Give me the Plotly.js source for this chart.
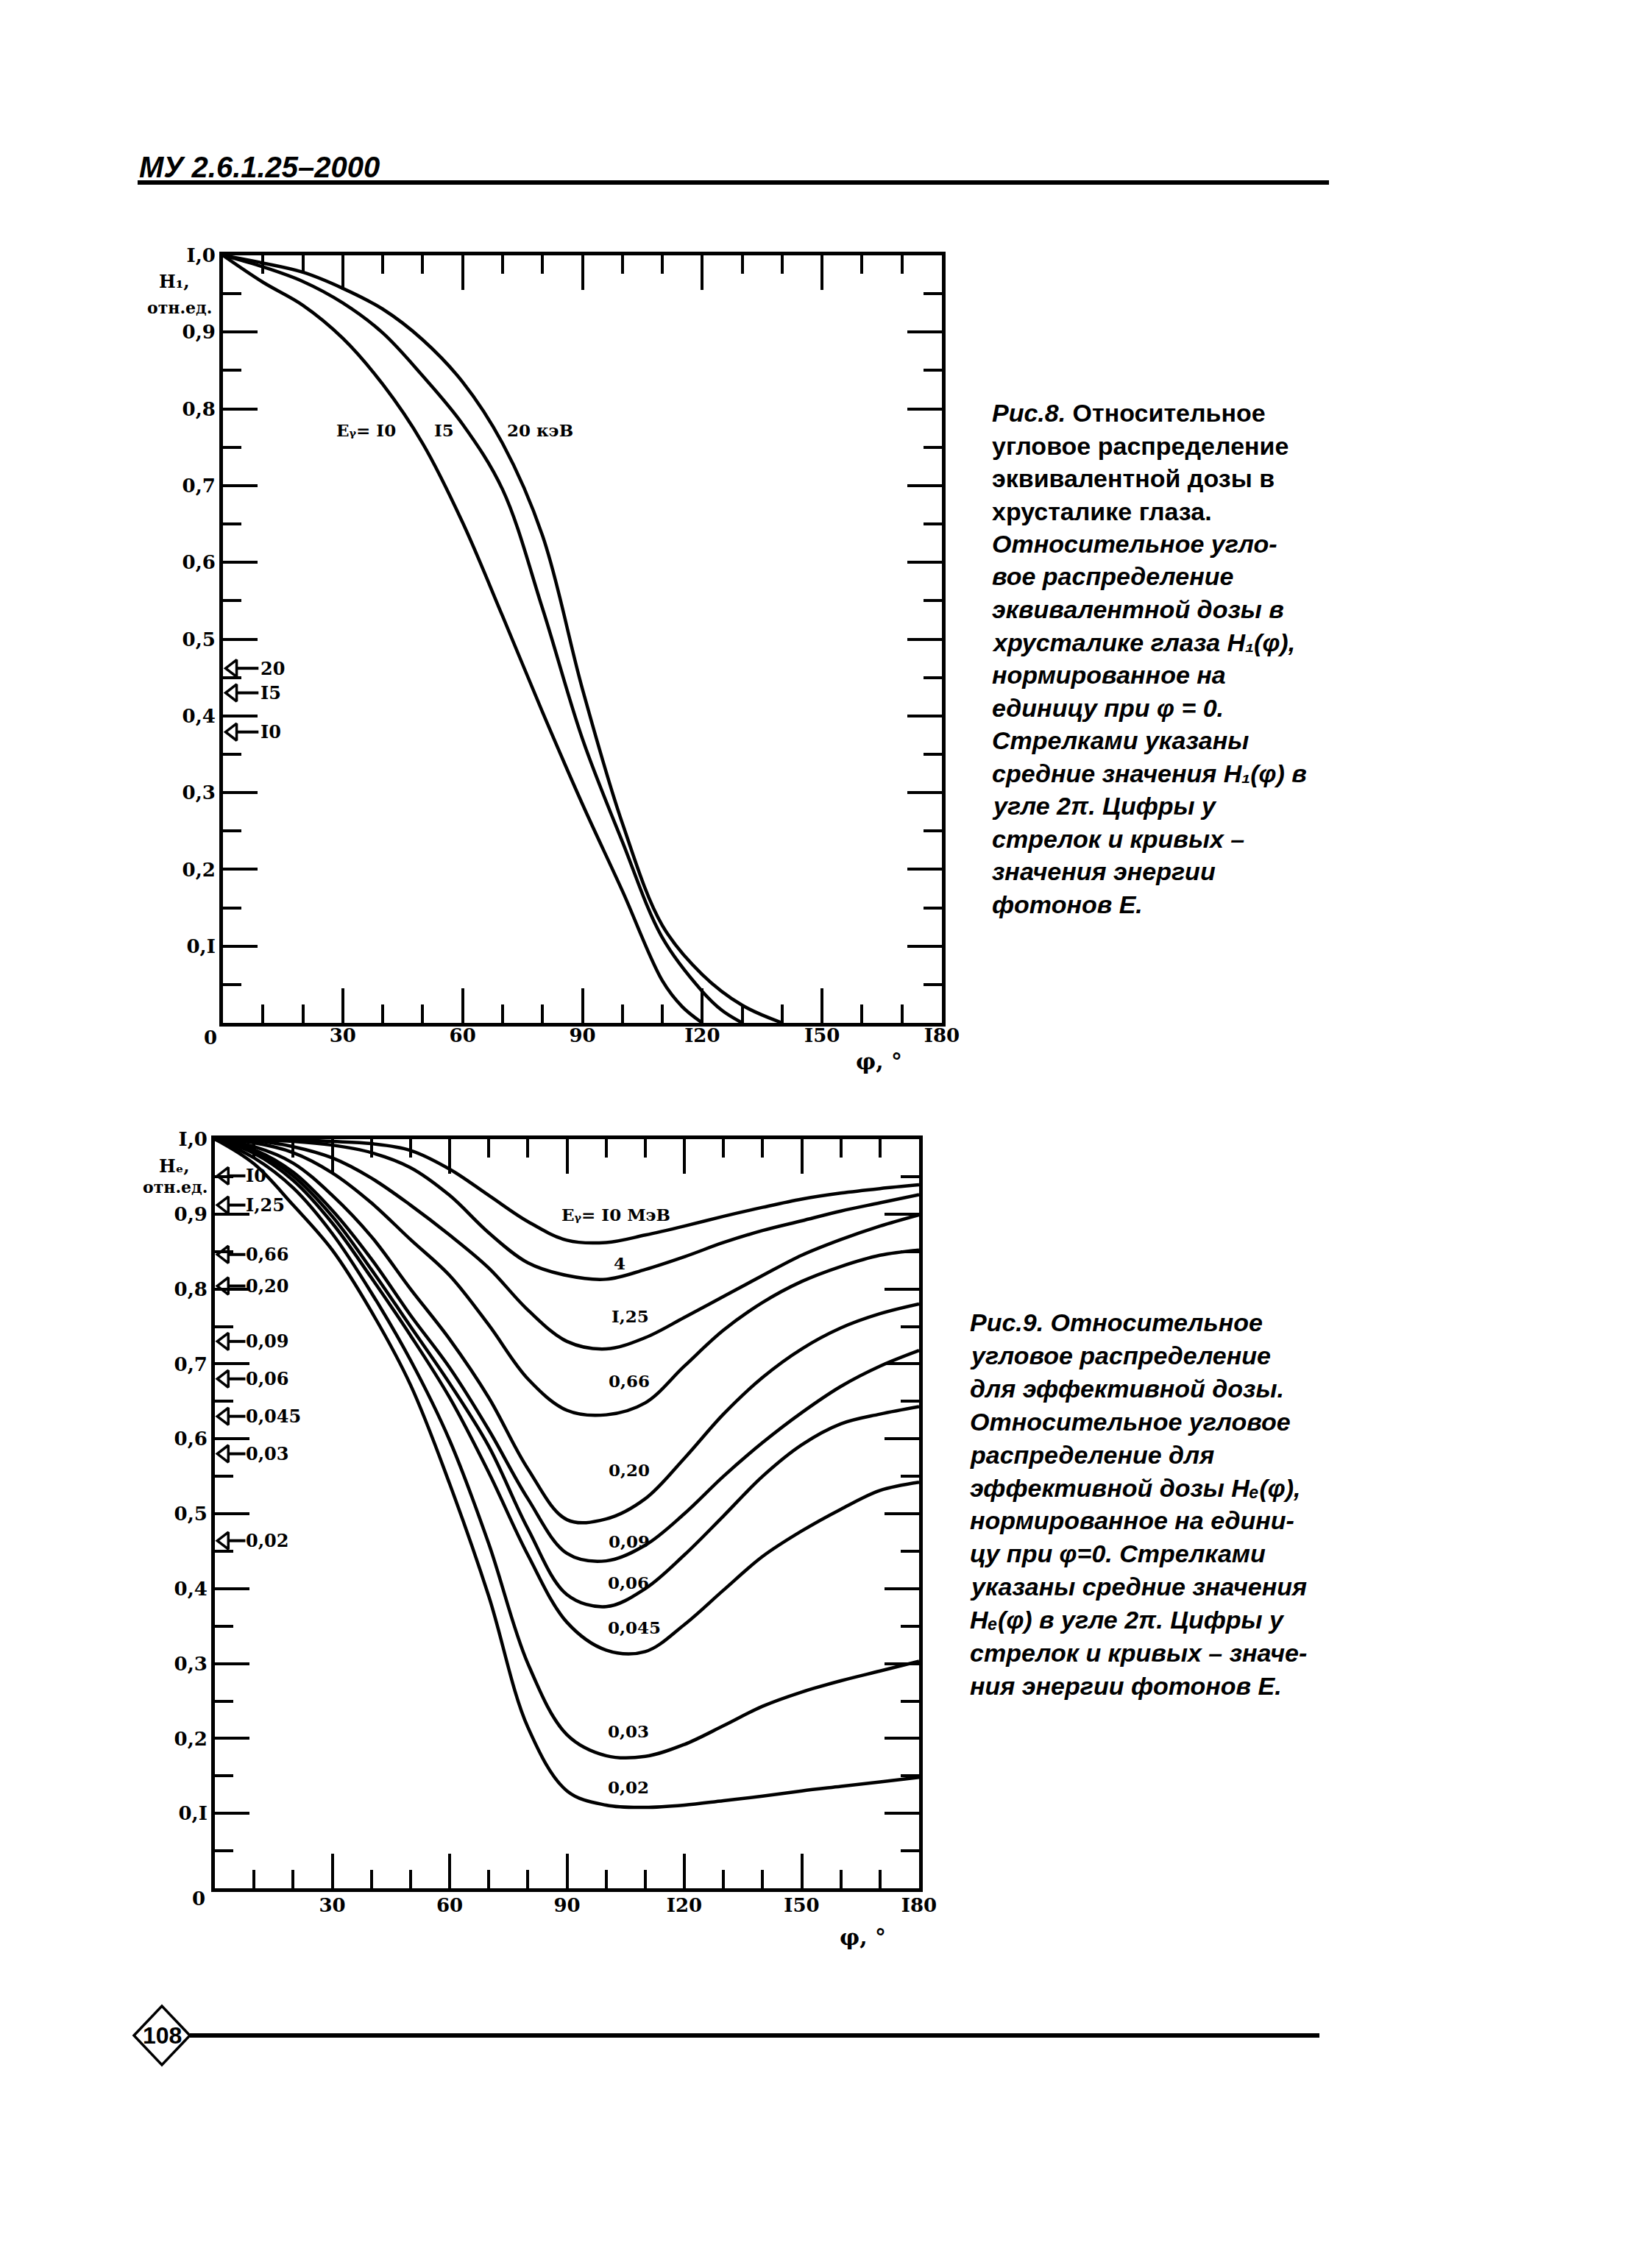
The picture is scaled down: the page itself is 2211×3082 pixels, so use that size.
<!DOCTYPE html>
<html>
<head>
<meta charset="utf-8">
<script src="https://cdn.plot.ly/plotly-3.0.1.min.js"></script>
<style>html,body{margin:0;padding:0;background:#fff;}#chart{width:2211px;height:3082px;}</style>
</head>
<body>
<div id="chart"></div>
<script>
// ---------- DATA ----------
// Fig. 8: H1(phi), lens of the eye
const phiH1_10 = [0,10,20,30,40,50,60,70,80,90,100,110,115,120];
const h1_10    = [1.0,0.965,0.935,0.892,0.832,0.755,0.652,0.53,0.405,0.285,0.172,0.055,0.021,0.0];
const phiH1_15 = [0,10,20,30,40,50,60,70,80,90,100,110,120,125,130];
const h1_15    = [1.0,0.985,0.966,0.938,0.899,0.843,0.78,0.695,0.54,0.37,0.236,0.111,0.041,0.016,0.0];
const phiH1_20 = [0,10,20,30,40,50,60,70,80,90,100,110,120,130,140];
const h1_20    = [1.0,0.99,0.978,0.957,0.93,0.89,0.835,0.755,0.635,0.435,0.26,0.127,0.063,0.023,0.0];
const h1MeanValues = [0.462,0.43,0.379];
const h1MeanLabels = ["20","I5","I0"];

// Fig. 9: He(phi), effective dose
const phiHe = [0,10,20,30,40,50,60,70,80,90,100,110,120,130,140,150,160,170,180];
const he10   = [1.0,1.0,0.999,0.997,0.994,0.985,0.96,0.925,0.89,0.865,0.862,0.872,0.884,0.897,0.909,0.92,0.928,0.934,0.939];
const he4    = [1.0,0.999,0.997,0.992,0.982,0.962,0.925,0.875,0.835,0.818,0.813,0.826,0.843,0.862,0.878,0.891,0.904,0.915,0.926];
const he125  = [1.0,0.998,0.99,0.975,0.948,0.912,0.872,0.828,0.772,0.73,0.72,0.735,0.762,0.79,0.818,0.845,0.866,0.884,0.899];
const he066  = [1.0,0.995,0.982,0.955,0.915,0.866,0.818,0.752,0.68,0.638,0.632,0.648,0.697,0.745,0.782,0.81,0.83,0.845,0.852];
const he020  = [1.0,0.99,0.968,0.925,0.87,0.8,0.733,0.655,0.56,0.492,0.493,0.52,0.574,0.633,0.682,0.72,0.748,0.767,0.78];
const he009  = [1.0,0.986,0.956,0.905,0.84,0.765,0.695,0.612,0.52,0.447,0.437,0.458,0.5,0.55,0.595,0.635,0.67,0.697,0.718];
const he006  = [1.0,0.984,0.951,0.897,0.826,0.75,0.674,0.59,0.48,0.392,0.376,0.4,0.445,0.497,0.55,0.592,0.62,0.633,0.643];
const he0045 = [1.0,0.981,0.945,0.888,0.815,0.738,0.655,0.555,0.445,0.355,0.318,0.316,0.352,0.398,0.443,0.477,0.506,0.531,0.542];
const he003  = [1.0,0.975,0.935,0.874,0.795,0.705,0.598,0.46,0.3,0.205,0.177,0.176,0.192,0.217,0.243,0.262,0.277,0.29,0.303];
const he002  = [1.0,0.967,0.912,0.852,0.77,0.672,0.54,0.39,0.215,0.13,0.111,0.108,0.111,0.117,0.123,0.13,0.136,0.142,0.148];
const heMeanValues = [0.951,0.912,0.846,0.804,0.73,0.68,0.63,0.58,0.464];
const heMeanLabels = ["I0","I,25","0,66","0,20","0,09","0,06","0,045","0,03","0,02"];

// curve labels (text, phi, value)
const h1CurveLabelText = ["Eᵧ= I0","I5","20 кэВ"];
const h1CurveLabelPhi  = [28,52.5,70.8];
const h1CurveLabelVal  = [0.772,0.772,0.772];
const heCurveLabelText = ["Eᵧ= I0 МэВ","4","I,25","0,66","0,20","0,09","0,06","0,045","0,03","0,02"];
const heCurveLabelPhi  = [88.3,101.5,101,100.3,100.3,100.3,100,100,100,100];
const heCurveLabelVal  = [0.899,0.834,0.764,0.677,0.558,0.463,0.408,0.348,0.21,0.135];

// ticks
const xTickVals = [30,60,90,120,150,180];
const xTickText = ["30","60","90","I20","I50","I80"];
const yTickVals = [0.1,0.2,0.3,0.4,0.5,0.6,0.7,0.8,0.9,1.0];
const yTickText = ["0,I","0,2","0,3","0,4","0,5","0,6","0,7","0,8","0,9","I,0"];

// ---------- LAYOUT HELPERS ----------
const W = 2211, H = 3082;
const px = x => x / W;
const py = y => 1 - y / H;
const SERIF = "DejaVu Serif, Liberation Serif, serif";
const SANS = "Liberation Sans, DejaVu Sans, Arial, sans-serif";
const NARROW = "Liberation Sans Narrow, Liberation Sans, Arial, sans-serif";
const lblFont = (s) => ({family: SERIF, size: s, color: "black", weight: "bold"});

const curveLine = {color: "black", width: 4.5, shape: "spline", smoothing: 1};

const traces = [];
function addCurve(x, y, xa, ya) {
  traces.push({type: "scatter", mode: "lines", x: x, y: y, xaxis: xa, yaxis: ya,
    line: curveLine, hoverinfo: "skip"});
}
addCurve(phiH1_10, h1_10, "x", "y");
addCurve(phiH1_15, h1_15, "x", "y");
addCurve(phiH1_20, h1_20, "x", "y");
[he10, he4, he125, he066, he020, he009, he006, he0045, he003, he002].forEach(v => addCurve(phiHe, v, "x2", "y2"));

const ann = [];

// mean-value arrows
function addArrows(vals, labels, xa, ya, triX, baseX, endX, labX) {
  traces.push({type: "scatter", mode: "markers", x: vals.map(() => triX), y: vals, xaxis: xa, yaxis: ya,
    marker: {symbol: "triangle-left-open", size: 20, color: "black", line: {color: "black", width: 3.5}},
    cliponaxis: false, hoverinfo: "skip"});
  const lx = [], ly = [];
  vals.forEach(v => { lx.push(baseX, endX, null); ly.push(v, v, null); });
  traces.push({type: "scatter", mode: "lines", x: lx, y: ly, xaxis: xa, yaxis: ya,
    line: {color: "black", width: 4}, hoverinfo: "skip"});
  vals.forEach((v, i) => ann.push({xref: xa, yref: ya, x: labX, y: v, text: labels[i], showarrow: false,
    xanchor: "left", yanchor: "middle", font: lblFont(24), borderpad: 0}));
}
addArrows(h1MeanValues, h1MeanLabels, "x", "y", 2.5, 3.4, 8.9, 9.3);
addArrows(heMeanValues, heMeanLabels, "x2", "y2", 2.5, 3.4, 7.8, 7.8);

function axis(domain, anchor, range, tv, tt, dt, standoff) {
  return {
    domain: domain, anchor: anchor, range: range,
    showline: true, linecolor: "black", linewidth: 5, mirror: "ticks",
    ticks: "inside", tickcolor: "black", tickwidth: 4, ticklen: 47,
    tickmode: "array", tickvals: tv, ticktext: tt,
    minor: {tickmode: "linear", tick0: 0, dtick: dt, ticks: "inside", ticklen: 25, tickwidth: 4, tickcolor: "black", showgrid: false},
    showgrid: false, zeroline: false, fixedrange: true,
    tickfont: lblFont(26), ticklabelstandoff: standoff
  };
}

function txt(x, y, text, font, xanchor, yanchor) {
  ann.push({xref: "paper", yref: "paper", x: x, y: y, text: text, showarrow: false,
    font: font, xanchor: xanchor || "center", yanchor: yanchor || "middle", align: "left"});
}

// header / footer
txt(px(187), py(227), "<i>МУ 2.6.1.25–2000</i>", {family: NARROW, size: 40, color: "black", weight: "bold"}, "left", "middle");
txt(px(220), py(2766), "108", {family: NARROW, size: 32, color: "black", weight: "bold"}, "center", "middle");

// captions
const cap8 = [
  "<i>Рис.8.</i> Относительное",
  "угловое распределение",
  "эквивалентной дозы в",
  "хрусталике глаза.",
  "<i>Относительное угло-</i>",
  "<i>вое распределение</i>",
  "<i>эквивалентной дозы в</i>",
  "<i>хрусталике глаза H₁(φ),</i>",
  "<i>нормированное на</i>",
  "<i>единицу при φ = 0.</i>",
  "<i>Стрелками указаны</i>",
  "<i>средние значения H₁(φ) в</i>",
  "<i>угле 2π. Цифры у</i>",
  "<i>стрелок и кривых –</i>",
  "<i>значения энергии</i>",
  "<i>фотонов Е.</i>"
];
const cap9 = [
  "<i>Рис.9. Относительное</i>",
  "<i>угловое распределение</i>",
  "<i>для эффективной дозы.</i>",
  "<i>Относительное угловое</i>",
  "<i>распределение для</i>",
  "<i>эффективной дозы Hₑ(φ),</i>",
  "<i>нормированное на едини-</i>",
  "<i>цу при φ=0. Стрелками</i>",
  "<i>указаны средние значения</i>",
  "<i>Hₑ(φ) в угле 2π. Цифры у</i>",
  "<i>стрелок и кривых – значе-</i>",
  "<i>ния энергии фотонов Е.</i>"
];
const capFont = {family: SANS, size: 34, color: "black", weight: "bold"};
cap8.forEach((t, i) => txt(px(1346), py(561 + i * 44.5), t, capFont, "left", "middle"));
cap9.forEach((t, i) => txt(px(1316), py(1797 + i * 44.9), t, capFont, "left", "middle"));

// axis corner labels and titles
txt(px(286), py(1410), "0", lblFont(26), "center", "middle");
txt(px(270), py(2580), "0", lblFont(26), "center", "middle");
txt(px(260), py(383), "H₁,", lblFont(24), "right", "middle");
txt(px(290), py(418), "отн.ед.", lblFont(22), "right", "middle");
txt(px(260), py(1584), "Hₑ,", lblFont(24), "right", "middle");
txt(px(284), py(1613), "отн.ед.", lblFont(22), "right", "middle");
txt(px(1194), py(1442), "φ, °", lblFont(30), "center", "middle");
txt(px(1172), py(2632), "φ, °", lblFont(30), "center", "middle");

// curve labels in data coordinates
h1CurveLabelText.forEach((t, i) => ann.push({xref: "x", yref: "y", x: h1CurveLabelPhi[i], y: h1CurveLabelVal[i],
  text: t, showarrow: false, xanchor: "left", yanchor: "middle", font: lblFont(23)}));
heCurveLabelText.forEach((t, i) => ann.push({xref: "x2", yref: "y2", x: heCurveLabelPhi[i], y: heCurveLabelVal[i],
  text: t, showarrow: false, xanchor: "left", yanchor: "middle", font: lblFont(23)}));

const shapes = [
  {type: "line", xref: "paper", yref: "paper", x0: px(187), x1: px(1806), y0: py(248), y1: py(248), line: {color: "black", width: 6}},
  {type: "line", xref: "paper", yref: "paper", x0: px(258), x1: px(1793), y0: py(2766), y1: py(2766), line: {color: "black", width: 6}},
  {type: "path", xref: "paper", yref: "paper",
   path: `M ${px(182)} ${py(2766)} L ${px(220)} ${py(2726)} L ${px(258)} ${py(2766)} L ${px(220)} ${py(2806)} Z`,
   line: {color: "black", width: 3.5}, fillcolor: "rgba(0,0,0,0)"}
];

const layout = {
  width: W, height: H, margin: {l: 0, r: 0, t: 0, b: 0},
  paper_bgcolor: "white", plot_bgcolor: "white", showlegend: false,
  xaxis: axis([px(303), px(1280)], "y", [0, 180], xTickVals, xTickText, 10, -10),
  yaxis: axis([py(1390), py(347)], "x", [0, 1], yTickVals, yTickText, 0.05, 0),
  xaxis2: axis([px(292), px(1249)], "y2", [0, 180], xTickVals, xTickText, 10, -4),
  yaxis2: axis([py(2566), py(1548)], "x2", [0, 1], yTickVals, yTickText, 0.05, 0),
  annotations: ann, shapes: shapes
};

Plotly.newPlot("chart", traces, layout, {displayModeBar: false, staticPlot: true});
</script>
</body>
</html>
